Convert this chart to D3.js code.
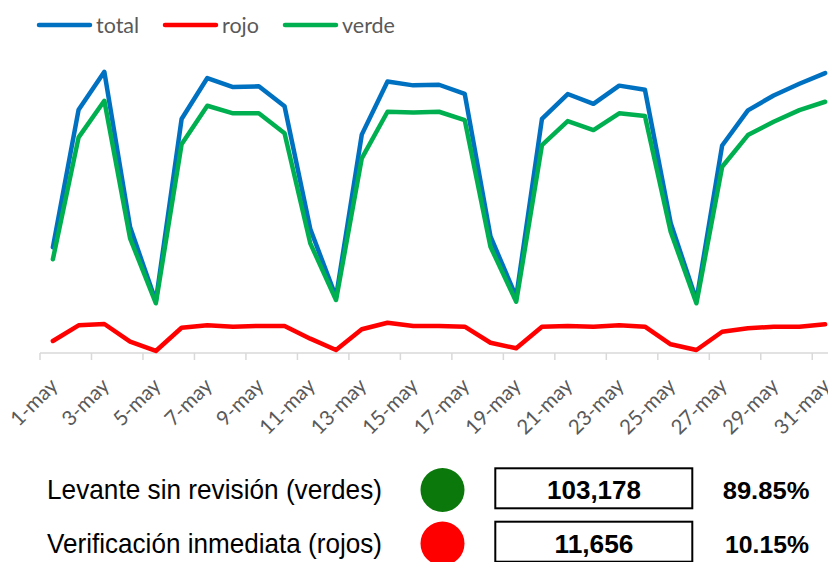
<!DOCTYPE html>
<html>
<head>
<meta charset="utf-8">
<script src="https://cdn.jsdelivr.net/npm/d3@7"></script>
<style>
  html, body { margin: 0; padding: 0; background: #ffffff; }
  svg { display: block; }
</style>
</head>
<body>
<svg id="chart" width="828" height="562"></svg>
<script>
// ---- data ----
const days = ["1-may","2-may","3-may","4-may","5-may","6-may","7-may","8-may","9-may","10-may",
  "11-may","12-may","13-may","14-may","15-may","16-may","17-may","18-may","19-may","20-may",
  "21-may","22-may","23-may","24-may","25-may","26-may","27-may","28-may","29-may","30-may","31-may"];
const verde = [1668,3839,4491,2042,885,3715,4402,4267,4267,3911,
  1953,943,3466,4295,4284,4295,4147,1892,913,3702,
  4130,3969,4267,4219,2159,885,3316,3880,4117,4325,4473];
const rojo = [214,493,516,201,36,450,493,468,481,481,
  255,53,422,539,481,481,468,183,84,468,
  481,468,493,468,155,53,379,440,468,468,511];
const total = [1882,4332,5007,2243,921,4165,4895,4735,4748,4392,
  2208,996,3888,4834,4765,4776,4615,2075,997,4170,
  4611,4437,4760,4687,2314,938,3695,4320,4585,4793,4984];
const seriesNames = ["total","rojo","verde"];
const seriesColors = ["#0070C0","#FF0000","#00B050"];
const summaryLabels = ["Levante sin revisión (verdes)","Verificación inmediata (rojos)"];
const summaryValues = ["103,178","11,656"];
const summaryPercents = ["89.85%","10.15%"];
const summaryColors = ["#0a780a","#ff0000"];

// ---- chart ----
const svg = d3.select("#chart");
const x = d3.scaleBand().domain(days).range([40, 838]).paddingInner(0).paddingOuter(0);
const y = d3.scaleLinear().domain([0, 6000]).range([353, 16]);
const cx = d => x(d) + x.bandwidth() / 2;

// axis line and ticks
const axisG = svg.append("g");
axisG.append("line")
  .attr("x1", 40).attr("x2", 838).attr("y1", 353).attr("y2", 353)
  .attr("stroke", "#d9d9d9").attr("stroke-width", 1.5);
const tickDays = days.filter((d, i) => i % 2 === 0);
axisG.selectAll("line.tick").data(tickDays).enter().append("line")
  .attr("class", "tick")
  .attr("x1", d => x(d)).attr("x2", d => x(d))
  .attr("y1", 353).attr("y2", 360)
  .attr("stroke", "#d9d9d9").attr("stroke-width", 1.5);
axisG.selectAll("text.lab").data(tickDays).enter().append("text")
  .attr("class", "lab")
  .attr("transform", d => `translate(${cx(d) + 1},${382}) rotate(-45)`)
  .attr("text-anchor", "end")
  .attr("dy", "0.35em")
  .attr("font-family", "Lato, 'Open Sans', sans-serif")
  .attr("font-size", 20.5)
  .attr("fill", "#595959")
  .text(d => d);

// lines
const seriesData = [total, rojo, verde];
const line = d3.line().x((v, i) => cx(days[i])).y(v => y(v));
[0, 2, 1].forEach(k => {
  svg.append("path")
    .datum(seriesData[k])
    .attr("d", line)
    .attr("fill", "none")
    .attr("stroke", seriesColors[k])
    .attr("stroke-width", 4.5)
    .attr("stroke-linejoin", "round")
    .attr("stroke-linecap", "round");
});

// legend
const legendX = [37, 163, 283];
seriesNames.forEach((name, k) => {
  const g = svg.append("g").attr("transform", `translate(${legendX[k]},25)`);
  g.append("line").attr("x1", 2).attr("x2", 53).attr("y1", 0).attr("y2", 0)
    .attr("stroke", seriesColors[k]).attr("stroke-width", 4.5).attr("stroke-linecap", "round");
  g.append("text").attr("x", 59).attr("y", 7.5)
    .attr("font-family", "Lato, 'Open Sans', sans-serif")
    .attr("font-size", 21.5)
    .attr("fill", "#595959")
    .text(name);
});

// summary table
const rowBase = [499.3, 553];
const rowCircleY = [490, 543.5];
const boxTop = [468.3, 521.7];
const labelLen = [335, 335];
const valueLen = [94, 79];
const pctLen = [86.7, 84];
const pctX = [722.7, 725];
summaryLabels.forEach((lab, r) => {
  svg.append("text").attr("x", 47).attr("y", rowBase[r])
    .attr("font-family", "'Liberation Sans', Arial, sans-serif")
    .attr("font-size", 28)
    .attr("textLength", labelLen[r]).attr("lengthAdjust", "spacingAndGlyphs")
    .attr("fill", "#000").text(lab);
  svg.append("circle").attr("cx", 442.5).attr("cy", rowCircleY[r]).attr("r", 22)
    .attr("fill", summaryColors[r]);
  svg.append("rect").attr("x", 495.3).attr("y", boxTop[r]).attr("width", 197).attr("height", 40)
    .attr("fill", "none").attr("stroke", "#000").attr("stroke-width", 2);
  svg.append("text").attr("x", 594).attr("y", rowBase[r]).attr("text-anchor", "middle")
    .attr("font-family", "'Liberation Sans', Arial, sans-serif")
    .attr("font-weight", "bold").attr("font-size", 25.5)
    .attr("textLength", valueLen[r]).attr("lengthAdjust", "spacingAndGlyphs")
    .attr("fill", "#000").text(summaryValues[r]);
  svg.append("text").attr("x", pctX[r]).attr("y", rowBase[r])
    .attr("font-family", "'Liberation Sans', Arial, sans-serif")
    .attr("font-weight", "bold").attr("font-size", 23.5)
    .attr("textLength", pctLen[r]).attr("lengthAdjust", "spacingAndGlyphs")
    .attr("fill", "#000").text(summaryPercents[r]);
});
</script>
</body>
</html>
